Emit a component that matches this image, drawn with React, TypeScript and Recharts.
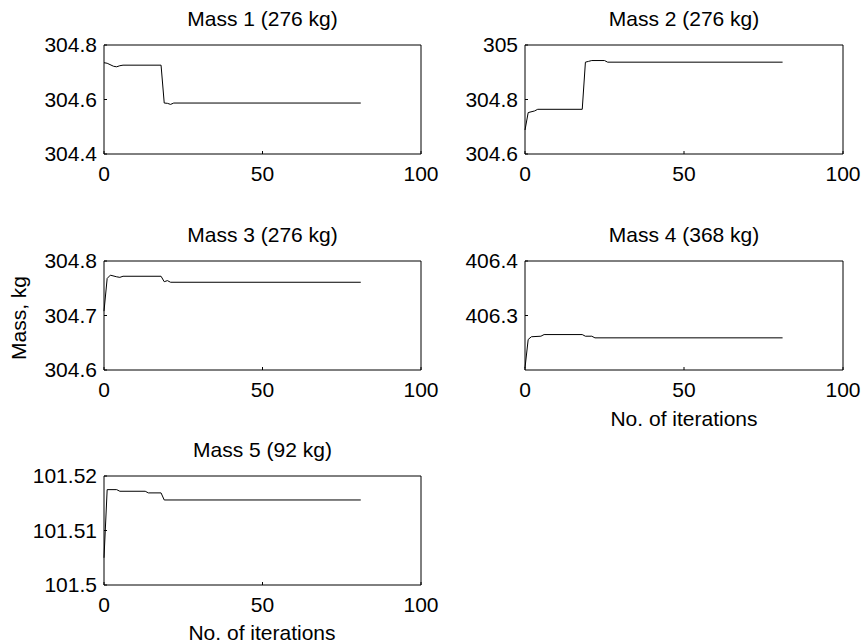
import React from 'react';
import { LineChart, Line, XAxis, YAxis } from 'recharts';

// Convergence history of each mass (iteration -> mass, kg), stored at the breakpoints
const iter1 = [0, 1, 3, 4, 5, 6, 18, 19, 20, 21, 22, 81];
const mass1 = [304.735, 304.733, 304.722, 304.72, 304.724, 304.726, 304.726, 304.587, 304.586, 304.582, 304.587, 304.587];

const iter2 = [0, 1, 3, 4, 18, 19, 20, 21, 25, 26, 81];
const mass2 = [304.688, 304.752, 304.758, 304.764, 304.764, 304.937, 304.94, 304.943, 304.943, 304.937, 304.937];

const iter3 = [0, 1, 2, 4, 5, 6, 18, 19, 20, 21, 81];
const mass3 = [304.708, 304.768, 304.774, 304.771, 304.77, 304.772, 304.772, 304.762, 304.764, 304.761, 304.761];

const iter4 = [0, 1, 2, 5, 6, 18, 19, 21, 22, 81];
const mass4 = [406.204, 406.256, 406.261, 406.262, 406.265, 406.265, 406.262, 406.262, 406.259, 406.259];

const iter5 = [0, 1, 4, 5, 13, 14, 18, 19, 81];
const mass5 = [101.505, 101.5175, 101.5175, 101.5172, 101.5172, 101.5169, 101.5169, 101.5156, 101.5156];

const titles = ['Mass 1 (276 kg)', 'Mass 2 (276 kg)', 'Mass 3 (276 kg)', 'Mass 4 (368 kg)', 'Mass 5 (92 kg)'];
const xTicks = [0, 50, 100];
const yTicks1 = [304.4, 304.6, 304.8];
const yTicks2 = [304.6, 304.8, 305];
const yTicks3 = [304.6, 304.7, 304.8];
const yTicks4 = [406.3, 406.4];
const yTicks5 = [101.5, 101.51, 101.52];

const FONT = 'Arial, "Liberation Sans", Helvetica, sans-serif';
const FS = 21;

const toRows = (xs: number[], ys: number[]) => xs.map((x, i) => ({ it: x, m: ys[i] }));

const panels = [
  { title: titles[0], data: toRows(iter1, mass1), domain: [304.4, 304.8], ticks: yTicks1, left: 104, top: 45, w: 317 },
  { title: titles[1], data: toRows(iter2, mass2), domain: [304.6, 305], ticks: yTicks2, left: 525, top: 45, w: 318 },
  { title: titles[2], data: toRows(iter3, mass3), domain: [304.6, 304.8], ticks: yTicks3, left: 104, top: 261, w: 317 },
  { title: titles[3], data: toRows(iter4, mass4), domain: [406.2, 406.4], ticks: yTicks4, left: 525, top: 261, w: 318 },
  { title: titles[4], data: toRows(iter5, mass5), domain: [101.5, 101.52], ticks: yTicks5, left: 104, top: 476, w: 317 },
];

const BOX_H = 109;
const PAD_L = 100;
const PAD_T = 45;
const PAD_R = 20;
const AX_H = 40;

function Panel({ p }: { p: (typeof panels)[number] }) {
  const tickStyle = { fill: '#000', fontSize: FS, fontFamily: FONT };
  return (
    <div style={{ position: 'absolute', left: p.left - PAD_L, top: p.top - PAD_T }}>
      <LineChart
        width={PAD_L + p.w + PAD_R}
        height={PAD_T + BOX_H + AX_H}
        data={p.data}
        margin={{ top: PAD_T - 2, right: PAD_R - 2, left: 0, bottom: 0 }}
      >
        <XAxis
          dataKey="it"
          type="number"
          domain={[0, 100]}
          ticks={xTicks}
          height={AX_H}
          stroke="#000"
          tickSize={-3}
          tickMargin={15}
          tick={tickStyle}
          interval={0}
        />
        <XAxis
          xAxisId="top"
          dataKey="it"
          orientation="top"
          type="number"
          domain={[0, 100]}
          ticks={xTicks}
          height={2}
          stroke="#000"
          tickSize={-3}
          tick={false}
          interval={0}
        />
        <YAxis
          type="number"
          domain={p.domain}
          ticks={p.ticks}
          width={PAD_L}
          stroke="#000"
          tickSize={-3}
          tickMargin={10}
          tick={tickStyle}
          interval={0}
        />
        <YAxis
          yAxisId="right"
          orientation="right"
          type="number"
          domain={p.domain}
          ticks={p.ticks}
          width={2}
          stroke="#000"
          tickSize={-3}
          tick={false}
          interval={0}
        />
        {/* invisible twin so the top and right box edges get drawn */}
        <Line
          xAxisId="top"
          yAxisId="right"
          type="linear"
          dataKey="m"
          stroke="none"
          dot={false}
          isAnimationActive={false}
        />
        <Line
          type="linear"
          dataKey="m"
          stroke="#000"
          strokeWidth={1}
          dot={false}
          isAnimationActive={false}
        />
      </LineChart>
      <div
        style={{
          position: 'absolute',
          left: PAD_L,
          top: PAD_T - 38,
          width: p.w,
          textAlign: 'center',
          fontFamily: FONT,
          fontSize: FS,
          lineHeight: '24px',
          color: '#000',
        }}
      >
        {p.title}
      </div>
    </div>
  );
}

export default function App() {
  const label = { fontFamily: FONT, fontSize: FS, fill: '#000' };
  return (
    <div style={{ position: 'absolute', left: 0, top: 0, width: 864, height: 644, background: '#fff' }}>
      {panels.map((p) => (
        <Panel key={p.title} p={p} />
      ))}
      <svg width={864} height={644} style={{ position: 'absolute', left: 0, top: 0, pointerEvents: 'none' }}>
        <text {...label} x={18} y={318} textAnchor="middle" dominantBaseline="central" transform="rotate(-90 18 318)">
          Mass, kg
        </text>
        <text {...label} x={684} y={418} textAnchor="middle" dominantBaseline="central">
          No. of iterations
        </text>
        <text {...label} x={262} y={632} textAnchor="middle" dominantBaseline="central">
          No. of iterations
        </text>
      </svg>
    </div>
  );
}
